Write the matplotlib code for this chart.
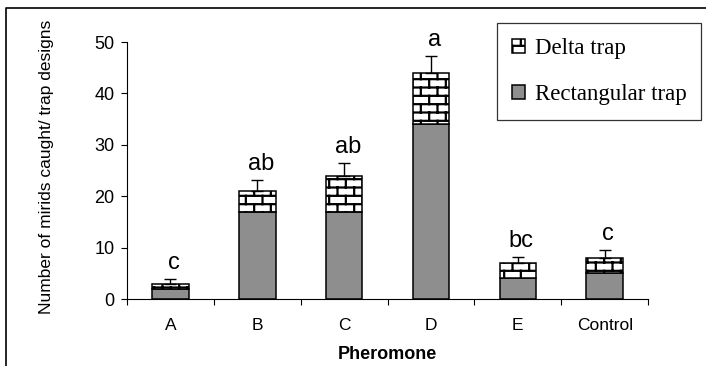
import warnings
import numpy as np
import matplotlib
matplotlib.use("Agg")
import matplotlib.pyplot as plt
import matplotlib.hatch as mhatch
from matplotlib.path import Path
from matplotlib.lines import Line2D

warnings.filterwarnings("ignore")

# data
categories = ['A', 'B', 'C', 'D', 'E', 'Control']
rect_trap = [2, 17, 17, 34, 4, 5]
delta_trap = [1, 4, 7, 10, 3, 3]
errors = [0.9, 2.2, 2.4, 3.3, 1.2, 1.5]
letters = ['c', 'ab', 'ab', 'a', 'bc', 'c']


# brick hatch for the delta trap ('b' in the hatch string)
class BrickHatch(mhatch.HatchPatternBase):
    def __init__(self, hatch, density):
        self.segs = []
        if 'b' in hatch:
            rows, cols = 12, 6
            for i in range(rows):
                y0 = (i + 0.5) / rows
                y1 = (i + 1.5) / rows
                self.segs.append(((0, y0), (1, y0)))
                shift = 0.5 if i % 2 else 0.0
                for j in range(cols):
                    x = (j + shift + 0.25) / cols
                    if y1 > 1:
                        self.segs.append(((x, y0), (x, 1)))
                        self.segs.append(((x, 0), (x, y1 - 1)))
                    else:
                        self.segs.append(((x, y0), (x, y1)))
        self.num_vertices = 2 * len(self.segs)

    def set_vertices_and_codes(self, vertices, codes):
        for k, (a, b) in enumerate(self.segs):
            vertices[2 * k] = a
            vertices[2 * k + 1] = b
            codes[2 * k] = Path.MOVETO
            codes[2 * k + 1] = Path.LINETO


mhatch._hatch_types.append(BrickHatch)

plt.rcParams['font.family'] = ['Liberation Sans', 'DejaVu Sans']
plt.rcParams['hatch.linewidth'] = 1.6

fig = plt.figure(figsize=(7.06, 3.66), dpi=100)
ax = fig.add_axes([0.180, 0.183, 0.738, 0.702])

x = np.arange(len(categories))
w = 0.42
b1 = ax.bar(x, rect_trap, width=w, color='#8e8e8e', edgecolor='black',
            linewidth=1.1, label='Rectangular trap', zorder=2)
b2 = ax.bar(x, delta_trap, width=w, bottom=rect_trap, color='white',
            edgecolor='black', hatch='b', linewidth=1.1, label='Delta trap', zorder=2)

totals = np.array(rect_trap) + np.array(delta_trap)
ax.errorbar(x, totals, yerr=[np.zeros(len(x)), errors], fmt='none',
            ecolor='black', elinewidth=1.0, capsize=4.5, capthick=1.0, zorder=3)

for xi, t, e, s in zip(x, totals, errors, letters):
    ax.text(xi + 0.04, t + e + 2, s, ha='center', va='baseline', fontsize=17)

ax.set_xlim(-0.5, len(categories) - 0.5)
ax.set_ylim(0, 50)
ax.set_yticks(range(0, 51, 10))
ax.set_xticks(np.arange(-0.5, len(categories), 1.0))
ax.set_xticklabels([])
ax.set_xticks(x, minor=True)
ax.set_xticklabels(categories, minor=True)
ax.tick_params(axis='x', which='major', direction='out', length=4, width=0.8)
ax.tick_params(axis='x', which='minor', length=0, pad=14, labelsize=12.5)
ax.tick_params(axis='y', direction='out', length=4, width=0.8, pad=5, labelsize=13)

for s in ['top', 'right']:
    ax.spines[s].set_visible(False)
ax.spines['left'].set_linewidth(0.8)
ax.spines['bottom'].set_linewidth(0.8)

ax.set_xlabel('Pheromone', fontsize=13, fontweight='bold', labelpad=9)
ax.set_ylabel('Number of mirids caught/ trap designs', fontsize=12.5)
ax.yaxis.set_label_coords(-0.14, 0.515)

leg = ax.legend([b2, b1], ['Delta trap', 'Rectangular trap'],
                loc='upper left', bbox_to_anchor=(497 / 706, 1 - 23 / 366),
                bbox_transform=fig.transFigure, frameon=True, fancybox=False,
                edgecolor='black', prop={'family': 'Liberation Serif', 'size': 16.5},
                handlelength=0.55, handleheight=0.55, handletextpad=0.45,
                labelspacing=1.1, borderpad=0.65, borderaxespad=0)
leg.get_frame().set_linewidth(0.9)

# outer frame (top and left edges)
fy = 1 - 8 / 366
fx = 6 / 706
fig.add_artist(Line2D([fx, fx, 1], [0, fy, fy], transform=fig.transFigure,
                      color='black', linewidth=1.2))

fig.savefig('out.png', dpi=100)
